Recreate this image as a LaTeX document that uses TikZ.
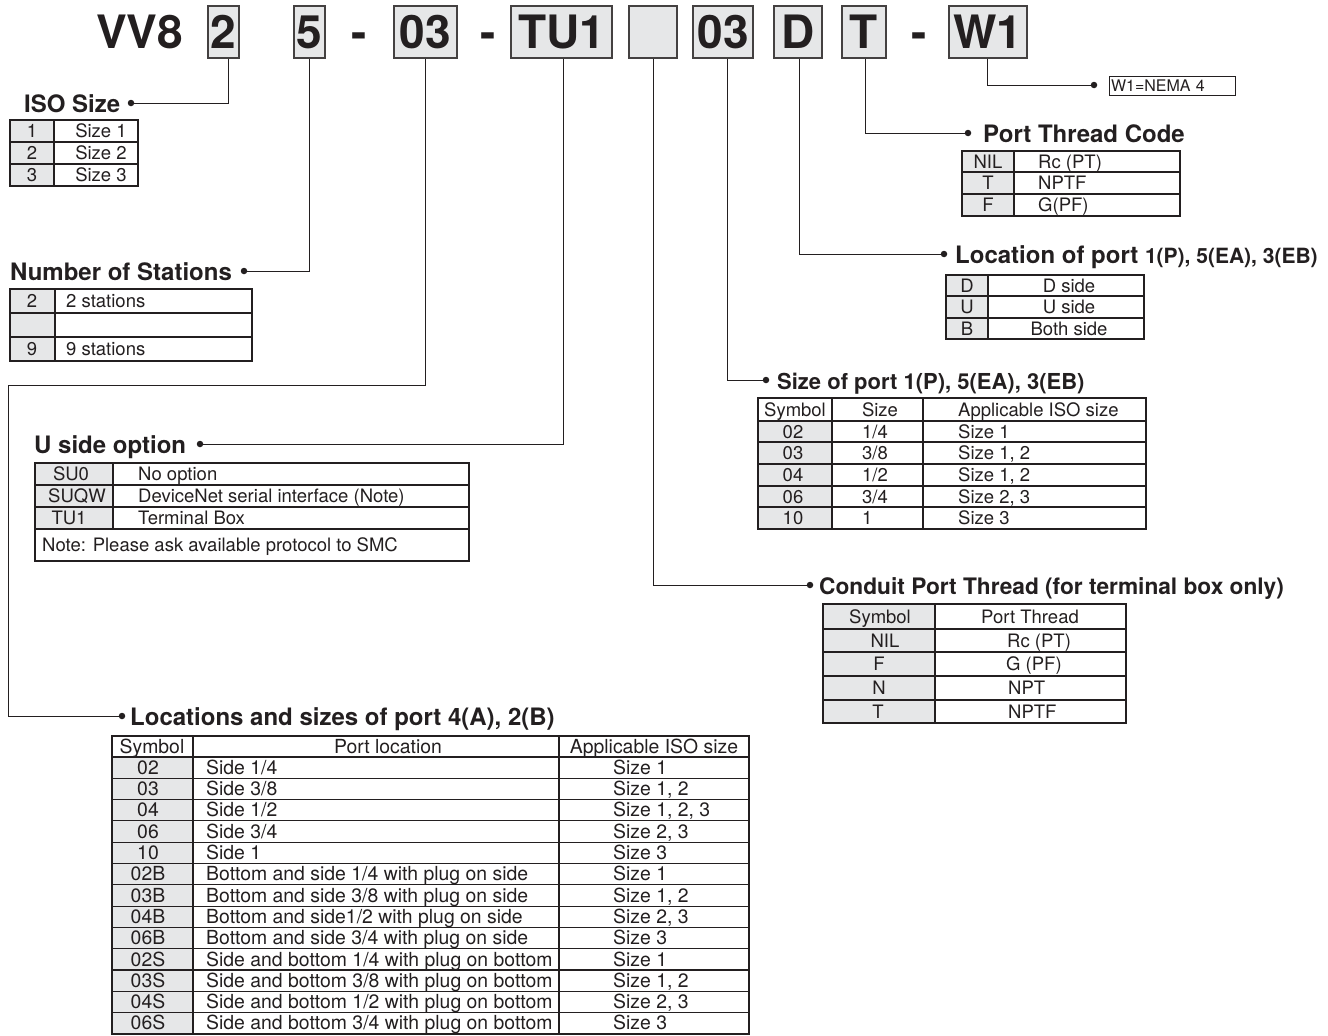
\documentclass[tikz,border=0pt]{standalone}
\usepackage{fontspec}
\setmainfont{TeX Gyre Heros}
\definecolor{ink}{HTML}{231F20}
\definecolor{boxgrey}{HTML}{E6E7E8}
\tikzset{
 hbox/.style={draw=ink!85, line width=1.2pt, fill=boxgrey, inner sep=0pt, text height=33pt, text depth=0pt, minimum height=52pt, font=\fontsize{46}{48}\selectfont\bfseries, text=ink},
 big/.style={font=\fontsize{46}{48}\selectfont\bfseries, text=ink, inner sep=0pt, anchor=base},
 conn/.style={draw=ink, line width=1pt},
 dotn/.style={circle, fill=ink, inner sep=0pt, minimum size=6.5pt},
 head/.style={font=\fontsize{24}{26}\selectfont\bfseries, text=ink, inner sep=0pt, anchor=base west},
 tl/.style={draw=ink, line width=1.1pt},
 cellc/.style={font=\fontsize{18.5}{20}\selectfont, text=ink, inner sep=0pt, anchor=base},
 celll/.style={cellc, anchor=base west},
 loc/.style={font=\fontsize{19.4}{20}\selectfont},
}
\newcommand\locrow[4]{%
 \node[cellc,loc] (ls#1) at (148,{757+21.3*#1+17.3}) {#2};
 \node[celll,loc] (lp#1) at (206,{757+21.3*#1+17.3}) {#3};
 \node[celll,loc] (la#1) at (613,{757+21.3*#1+17.3}) {#4};
}
\begin{document}
\begin{tikzpicture}[x=1pt,y=-1pt]
\useasboundingbox (0,0) rectangle (1328,1036);

% ---------- header code ----------
\node[big, anchor=base west] (vv8) at (96,48) {VV8};
\node[hbox, minimum width=31pt] (b2) at (223.5,32) {2};
\node[hbox, minimum width=31pt] (b5) at (309.5,32) {5};
\node[big] (d1) at (359.5,48) {-};
\node[hbox, minimum width=63pt] (b03) at (425.5,32) {03};
\node[big] (d2) at (488,48) {-};
\node[hbox, minimum width=101pt] (bTU) at (561.5,32) {TU1};
\node[hbox, minimum width=48pt] (bE) at (653,32) {};
\node[hbox, minimum width=60pt] (b03b) at (723,32) {03};
\node[hbox, minimum width=48pt] (bD) at (798,32) {D};
\node[hbox, minimum width=44pt] (bT) at (864,32) {T};
\node[big] (d3) at (919.5,48) {-};
\node[hbox, minimum width=78pt] (bW) at (988,32) {W1};

% ---------- dots ----------
\node[dotn] (isodot) at (131,103) {};
\node[dotn] (stdot) at (244,271) {};
\node[dotn] (udot) at (200,444) {};
\node[dotn] (locdot) at (122,716) {};
\node[dotn] (wdot) at (1094,85) {};
\node[dotn] (pdot) at (968,133) {};
\node[dotn] (ldot) at (944,254) {};
\node[dotn] (sdot) at (766,380) {};
\node[dotn] (cdot) at (810,585) {};
\coordinate (bendA) at (8,385);

% ---------- connectors ----------
\draw[conn] ([xshift=4.5pt]b2.south) |- (isodot);
\draw[conn] (b5.south) |- (stdot);
\draw[conn] (b03.south) |- (bendA) |- (locdot);
\draw[conn] ([xshift=1.5pt]bTU.south) |- (udot);
\draw[conn] (bE.south) |- (cdot);
\draw[conn] ([xshift=4pt]b03b.south) |- (sdot);
\draw[conn] ([xshift=1pt]bD.south) |- (ldot);
\draw[conn] ([xshift=1pt]bT.south) |- (pdot);
\draw[conn] ([xshift=-1pt]bW.south) |- (wdot);

% ---------- headings ----------
\node[head] (hiso) at (24,112) {ISO Size};
\node[head] (hst) at (10,280) {Number of Stations};
\node[head] (hu) at (34,453) {U side option};
\node[head] (hloc) at (130,725) {Locations and sizes of port 4(A), 2(B)};
\node[head] (hptc) at (983,142) {Port Thread Code};
\node[head] (hlp) at (955,263) {Location of port {\fontsize{21}{22}\selectfont 1(P), 5(EA), 3(EB)}};
\node[head, font=\fontsize{22}{24}\selectfont\bfseries] (hsp) at (777,389) {Size of port 1(P), 5(EA), 3(EB)};
\node[head, font=\fontsize{22.7}{24}\selectfont\bfseries] (hcp) at (819,594) {Conduit Port Thread (for terminal box only)};

% ---------- W1 box ----------
\node[draw=ink, line width=1pt, text width=122pt, align=left, minimum height=19pt, inner xsep=2pt, inner ysep=0pt,
      font=\fontsize{16}{17}\selectfont, text=ink] (nema) at (1172,86) {W1=NEMA 4};

% ---------- ISO table ----------
\fill[boxgrey] (10,120) rectangle (54,186);
\draw[tl] (10,120) rectangle (138,186);
\draw[tl] (54,120) -- (54,186) (10,142) -- (138,142) (10,164) -- (138,164);
\node[cellc] (iso1) at (32,137) {1};
\node[cellc] (iso2) at (32,159) {2};
\node[cellc] (iso3) at (32,181) {3};
\node[cellc] (isos1) at (101,137) {Size 1};
\node[cellc] (isos2) at (101,159) {Size 2};
\node[cellc] (isos3) at (101,181) {Size 3};

% ---------- Stations table ----------
\fill[boxgrey] (10,289) rectangle (55,361);
\draw[tl] (10,289) rectangle (252,361);
\draw[tl] (55,289) -- (55,361) (10,313) -- (252,313) (10,337) -- (252,337);
\node[cellc] (st2) at (32,307.5) {2};
\node[cellc] (st9) at (32,355.5) {9};
\node[celll] (st2t) at (66,307.5) {2 stations};
\node[celll] (st9t) at (66,355.5) {9 stations};

% ---------- U side table ----------
\fill[boxgrey] (35,463) rectangle (113,529);
\draw[tl] (35,463) rectangle (469,561);
\draw[tl] (113,463) -- (113,529) (35,485) -- (469,485) (35,507) -- (469,507) (35,529) -- (469,529);
\node[cellc] (u1) at (71,480.5) {SU0};
\node[cellc] (u2) at (77,502.5) {SUQW};
\node[cellc] (u3) at (69,524.5) {TU1};
\node[celll] (u1t) at (138,480.5) {No option};
\node[celll] (u2t) at (138,502.5) {DeviceNet serial interface (Note)};
\node[celll] (u3t) at (138,524.5) {Terminal Box};
\node[celll] (unote) at (42,551.5) {Note: Please ask available protocol to SMC};

% ---------- Port Thread Code table ----------
\fill[boxgrey] (962,151) rectangle (1014,216);
\draw[tl] (962,151) rectangle (1180,216);
\draw[tl] (1014,151) -- (1014,216) (962,172) -- (1180,172) (962,194) -- (1180,194);
\node[cellc] (p1) at (988,168) {NIL};
\node[cellc] (p2) at (988,189.5) {T};
\node[cellc] (p3) at (988,211) {F};
\node[celll] (p1t) at (1038,168) {Rc (PT)};
\node[celll] (p2t) at (1038,189.5) {NPTF};
\node[celll] (p3t) at (1038,211) {G(PF)};

% ---------- Location of port table ----------
\fill[boxgrey] (946,275) rectangle (988,339);
\draw[tl] (946,275) rectangle (1144,339);
\draw[tl] (988,275) -- (988,339) (946,296) -- (1144,296) (946,318) -- (1144,318);
\node[cellc] (lo1) at (967,292) {D};
\node[cellc] (lo2) at (967,313.5) {U};
\node[cellc] (lo3) at (967,335) {B};
\node[cellc] (lo1t) at (1069,292) {D side};
\node[cellc] (lo2t) at (1069,313.5) {U side};
\node[cellc] (lo3t) at (1069,335) {Both side};

% ---------- Size of port table ----------
\fill[boxgrey] (758,421) rectangle (832,529);
\draw[tl] (758,398) rectangle (1146,529);
\draw[tl] (832,398) -- (832,529) (923,398) -- (923,529);
\foreach \yy in {421,442,464,486,507} \draw[tl] (758,\yy) -- (1146,\yy);
\node[cellc] (sh1) at (795,416) {Symbol};
\node[cellc] (sh2) at (880,416) {Size};
\node[celll] (sh3) at (958,416) {Applicable ISO size};
\node[cellc] (s1) at (793,438) {02};
\node[cellc] (s2) at (793,459.5) {03};
\node[cellc] (s3) at (793,481.5) {04};
\node[cellc] (s4) at (793,503) {06};
\node[cellc] (s5) at (793,524.5) {10};
\node[celll] (s1b) at (862,438) {1/4};
\node[celll] (s2b) at (862,459.5) {3/8};
\node[celll] (s3b) at (862,481.5) {1/2};
\node[celll] (s4b) at (862,503) {3/4};
\node[celll] (s5b) at (862,524.5) {1};
\node[celll] (s1c) at (958,438) {Size 1};
\node[celll] (s2c) at (958,459.5) {Size 1, 2};
\node[celll] (s3c) at (958,481.5) {Size 1, 2};
\node[celll] (s4c) at (958,503) {Size 2, 3};
\node[celll] (s5c) at (958,524.5) {Size 3};

% ---------- Conduit table ----------
\fill[boxgrey] (823,604) rectangle (935,723);
\draw[tl] (823,604) rectangle (1126,723);
\draw[tl] (935,604) -- (935,723);
\foreach \yy in {629,652,676,700} \draw[tl] (823,\yy) -- (1126,\yy);
\node[cellc] (c0) at (880,623) {Symbol};
\node[cellc] (c1) at (885,647) {NIL};
\node[cellc] (c2) at (879,670.5) {F};
\node[cellc] (c3) at (879,694.5) {N};
\node[cellc] (c4) at (878,718) {T};
\node[cellc] (c0t) at (1030,623) {Port Thread};
\node[celll] (c1t) at (1007,647) {Rc (PT)};
\node[celll] (c2t) at (1006,670.5) {G (PF)};
\node[celll] (c3t) at (1008,694.5) {NPT};
\node[celll] (c4t) at (1008,718) {NPTF};

% ---------- Locations table ----------
\fill[boxgrey] (112,757) rectangle (193,1034);
\draw[tl] (112,736) rectangle (749,1034);
\draw[tl] (193,736) -- (193,1034) (559,736) -- (559,1034);
\foreach \k in {0,...,12} \draw[tl] (112,{757+21.3*\k}) -- (749,{757+21.3*\k});
\node[cellc,loc] (lh1) at (152,753) {Symbol};
\node[cellc,loc] (lh2) at (388,753) {Port location};
\node[cellc,loc] (lh3) at (654,753) {Applicable ISO size};
\locrow{0}{02}{Side 1/4}{Size 1}
\locrow{1}{03}{Side 3/8}{Size 1, 2}
\locrow{2}{04}{Side 1/2}{Size 1, 2, 3}
\locrow{3}{06}{Side 3/4}{Size 2, 3}
\locrow{4}{10}{Side 1}{Size 3}
\locrow{5}{02B}{Bottom and side 1/4 with plug on side}{Size 1}
\locrow{6}{03B}{Bottom and side 3/8 with plug on side}{Size 1, 2}
\locrow{7}{04B}{Bottom and side1/2 with plug on side}{Size 2, 3}
\locrow{8}{06B}{Bottom and side 3/4 with plug on side}{Size 3}
\locrow{9}{02S}{Side and bottom 1/4 with plug on bottom}{Size 1}
\locrow{10}{03S}{Side and bottom 3/8 with plug on bottom}{Size 1, 2}
\locrow{11}{04S}{Side and bottom 1/2 with plug on bottom}{Size 2, 3}
\locrow{12}{06S}{Side and bottom 3/4 with plug on bottom}{Size 3}
\end{tikzpicture}
\end{document}
